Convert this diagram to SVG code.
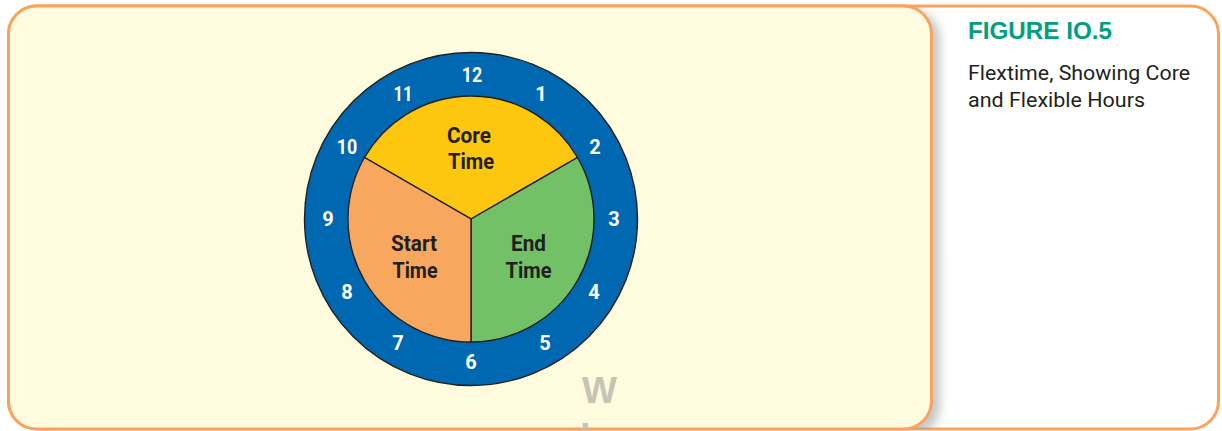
<svg xmlns="http://www.w3.org/2000/svg" width="1222" height="431" viewBox="0 0 1222 431">
  <style>
    .frame { fill: #FFFFFF; stroke: #F9A35E; stroke-width: 3; }
    .panel { fill: #FFFBDF; stroke: #F9A35E; stroke-width: 3; }
    .edge { stroke: #231F20; stroke-width: 1.4; }
    .num { font-family: "Liberation Sans Narrow", "Roboto", sans-serif; font-weight: bold; font-size: 20px; fill: #FFFFFF; text-anchor: middle; }
    .lbl { font-family: "Liberation Sans Narrow", "Roboto", sans-serif; font-weight: bold; font-size: 22.5px; fill: #231F20; text-anchor: middle; }
    .title { font-family: "Liberation Sans", sans-serif; font-weight: bold; font-size: 23px; fill: #00A07E; }
    .caption { font-family: "Liberation Sans Narrow", "Roboto", sans-serif; font-size: 21px; fill: #231F20; }
    .mark { font-family: "Liberation Sans", sans-serif; font-weight: bold; font-size: 37px; fill: #C6C4B2; }
  </style>
  <defs>
    <filter id="soft" x="-10%" y="-10%" width="120%" height="120%">
      <feGaussianBlur stdDeviation="5"/>
    </filter>
    <clipPath id="frameClip">
      <rect x="8.5" y="6" width="1210" height="423" rx="28"/>
    </clipPath>
  </defs>

  <!-- outer frame -->
  <rect class="frame" x="8.5" y="6" width="1210" height="423" rx="28"/>

  <!-- drawing panel with drop shadow -->
  <g id="panel">
    <rect x="20" y="10" width="920" height="425" rx="28" fill="#9A9A9A" opacity="0.55" filter="url(#soft)" clip-path="url(#frameClip)"/>
    <rect class="panel" x="8.5" y="6" width="923" height="423" rx="28"/>
  </g>

  <!-- clock face -->
  <g id="clock">
    <circle class="edge" cx="471" cy="219" r="166.5" fill="#0067B1"/>
    <g id="core">
      <path class="edge" d="M471,219 L364.48,157.5 A123,123 0 0 1 577.52,157.5 Z" fill="#FDC70F"/>
      <text class="lbl" x="469" y="143" textLength="44" lengthAdjust="spacingAndGlyphs">Core</text>
      <text class="lbl" x="471" y="169" textLength="46" lengthAdjust="spacingAndGlyphs">Time</text>
    </g>
    <g id="end">
      <path class="edge" d="M471,219 L577.52,157.5 A123,123 0 0 1 471,342 Z" fill="#72C167"/>
      <text class="lbl" x="528.5" y="251" textLength="35" lengthAdjust="spacingAndGlyphs">End</text>
      <text class="lbl" x="528.5" y="278" textLength="46" lengthAdjust="spacingAndGlyphs">Time</text>
    </g>
    <g id="start">
      <path class="edge" d="M471,219 L471,342 A123,123 0 0 1 364.48,157.5 Z" fill="#F8A85E"/>
      <text class="lbl" x="414" y="251" textLength="46" lengthAdjust="spacingAndGlyphs">Start</text>
      <text class="lbl" x="415" y="278" textLength="45" lengthAdjust="spacingAndGlyphs">Time</text>
    </g>
    <g id="hours">
      <text class="num" x="472" y="82" textLength="20.5" lengthAdjust="spacingAndGlyphs">12</text>
      <text class="num" x="541" y="101">1</text>
      <text class="num" x="595" y="154">2</text>
      <text class="num" x="614" y="226">3</text>
      <text class="num" x="594" y="299">4</text>
      <text class="num" x="545" y="350">5</text>
      <text class="num" x="471" y="369">6</text>
      <text class="num" x="398" y="350">7</text>
      <text class="num" x="347" y="299">8</text>
      <text class="num" x="328" y="226">9</text>
      <text class="num" x="347" y="154" textLength="20.5" lengthAdjust="spacingAndGlyphs">10</text>
      <text class="num" x="403" y="101" textLength="19" lengthAdjust="spacingAndGlyphs">11</text>
    </g>
  </g>

  <!-- watermark letters -->
  <g clip-path="url(#frameClip)">
    <text class="mark" x="582" y="403">W</text>
    <text class="mark" x="580" y="449">I</text>
  </g>

  <!-- caption -->
  <g id="caption">
    <text class="title" x="968" y="39" textLength="144" lengthAdjust="spacingAndGlyphs">FIGURE IO.5</text>
    <text class="caption" x="968" y="80" textLength="222" lengthAdjust="spacingAndGlyphs">Flextime, Showing Core</text>
    <text class="caption" x="968" y="107" textLength="177" lengthAdjust="spacingAndGlyphs">and Flexible Hours</text>
  </g>
</svg>
